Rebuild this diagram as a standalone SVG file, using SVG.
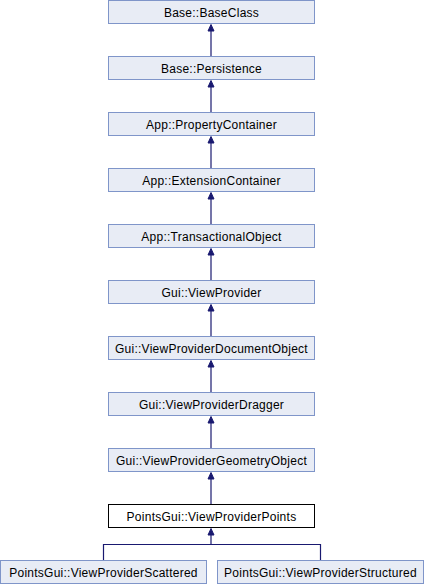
<svg xmlns="http://www.w3.org/2000/svg" width="424" height="584" viewBox="0 0 424 584">
<style>
.n rect{fill:#e8ecf5;stroke:#7f95c9;stroke-width:1}
.n.cur rect{fill:#ffffff;stroke:#000000}
.n text{font-family:"Liberation Sans",Arial,sans-serif;font-size:12px;letter-spacing:0.25px;fill:#000;text-anchor:middle}
.e{stroke:#191970;stroke-width:1.2;fill:none}
.h{fill:#191970;stroke:#191970;stroke-width:1}
</style>
<rect width="424" height="584" fill="#ffffff"/>
<g id="connectors">
<path class="e" d="M211 56V31"/><polygon class="h" points="211,24.5 208,31 214,31"/>
<path class="e" d="M211 112V87"/><polygon class="h" points="211,80.5 208,87 214,87"/>
<path class="e" d="M211 168V143"/><polygon class="h" points="211,136.5 208,143 214,143"/>
<path class="e" d="M211 224V199"/><polygon class="h" points="211,192.5 208,199 214,199"/>
<path class="e" d="M211 280V255"/><polygon class="h" points="211,248.5 208,255 214,255"/>
<path class="e" d="M211 336V311"/><polygon class="h" points="211,304.5 208,311 214,311"/>
<path class="e" d="M211 392V367"/><polygon class="h" points="211,360.5 208,367 214,367"/>
<path class="e" d="M211 448V423"/><polygon class="h" points="211,416.5 208,423 214,423"/>
<path class="e" d="M211 504V479"/><polygon class="h" points="211,472.5 208,479 214,479"/>
<path class="e" d="M103.5 560V544.5H320.5V560M211 544.5V535"/><polygon class="h" points="211,528.5 208,535 214,535"/>
</g>
<g id="n0" class="n"><rect x="108.5" y="0.5" width="206" height="23"/><text x="211.5" y="16.5">Base::BaseClass</text></g>
<g id="n1" class="n"><rect x="108.5" y="56.5" width="206" height="23"/><text x="211.5" y="72.5">Base::Persistence</text></g>
<g id="n2" class="n"><rect x="108.5" y="112.5" width="206" height="23"/><text x="211.5" y="128.5">App::PropertyContainer</text></g>
<g id="n3" class="n"><rect x="108.5" y="168.5" width="206" height="23"/><text x="211.5" y="184.5">App::ExtensionContainer</text></g>
<g id="n4" class="n"><rect x="108.5" y="224.5" width="206" height="23"/><text x="211.5" y="240.5">App::TransactionalObject</text></g>
<g id="n5" class="n"><rect x="108.5" y="280.5" width="206" height="23"/><text x="211.5" y="296.5">Gui::ViewProvider</text></g>
<g id="n6" class="n"><rect x="108.5" y="336.5" width="206" height="23"/><text x="211.5" y="352.5">Gui::ViewProviderDocumentObject</text></g>
<g id="n7" class="n"><rect x="108.5" y="392.5" width="206" height="23"/><text x="211.5" y="408.5">Gui::ViewProviderDragger</text></g>
<g id="n8" class="n"><rect x="108.5" y="448.5" width="206" height="23"/><text x="211.5" y="464.5">Gui::ViewProviderGeometryObject</text></g>
<g id="n9" class="n cur"><rect x="108.5" y="504.5" width="206" height="23"/><text x="211.5" y="520.5">PointsGui::ViewProviderPoints</text></g>
<g id="n10" class="n"><rect x="0.5" y="560.5" width="206" height="23"/><text x="103.5" y="576.5">PointsGui::ViewProviderScattered</text></g>
<g id="n11" class="n"><rect x="217.5" y="560.5" width="206" height="23"/><text x="320.5" y="576.5">PointsGui::ViewProviderStructured</text></g>
</svg>
